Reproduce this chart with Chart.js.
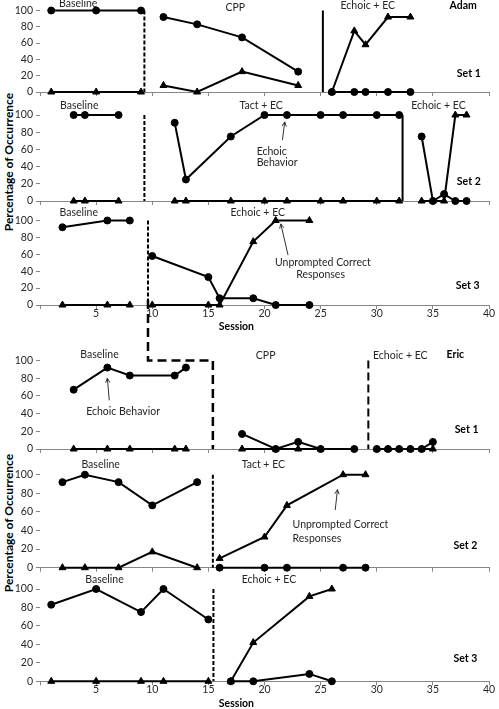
<!DOCTYPE html>
<html lang="en">
<head>
<meta charset="UTF-8">
<title>Adam and Eric - Percentage of Occurrence</title>
<script src="https://cdn.jsdelivr.net/npm/chart.js"></script>
<style>
  body { margin: 0; background: #fff; }
  #wrap { position: relative; width: 499px; height: 709px; overflow: hidden; }
  #wrap canvas { position: absolute; left: 0; }
  .ytitle {
    position: absolute;
    font: bold 12px Lato, sans-serif;
    white-space: nowrap;
    transform: translate(-50%, -50%) rotate(-90deg);
  }
</style>
</head>
<body>
<div id="wrap">
  <div class="ytitle" style="left:8px; top:162px">Percentage of Occurrence</div>
  <div class="ytitle" style="left:8px; top:523px">Percentage of Occurrence</div>
</div>
<script>
// phase index: 0 = baseline, 1 = second condition, 2 = third condition
// Adam, set 1
const adam1Sessions = [1, 5, 9, 11, 14, 18, 23, 26, 28, 29, 31, 33];
const adam1Phase    = [0, 0, 0, 1, 1, 1, 1, 2, 2, 2, 2, 2];
const adam1Echoic   = [100, 100, 100, 92, 83, 67, 25, 0, 0, 0, 0, 0];
const adam1Correct  = [0, 0, 0, 8, 0, 25, 8, 0, 75, 58, 92, 92];

// Adam, set 2
const adam2Sessions = [3, 4, 7, 12, 13, 17, 20, 22, 25, 27, 30, 32, 34, 35, 36, 37, 38];
const adam2Phase    = [0, 0, 0, 1, 1, 1, 1, 1, 1, 1, 1, 1, 2, 2, 2, 2, 2];
const adam2Echoic   = [100, 100, 100, 91, 25, 75, 100, 100, 100, 100, 100, 100, 75, 0, 8, 0, 0];
const adam2Correct  = [0, 0, 0, 0, 0, 0, 0, 0, 0, 0, 0, 0, 0, 0, 0, 100, 100];

// Adam, set 3
const adam3Sessions = [2, 6, 8, 10, 15, 16, 19, 21, 24];
const adam3Phase    = [0, 0, 0, 1, 1, 1, 1, 1, 1];
const adam3Echoic   = [92, 100, 100, 58, 33, 8, 8, 0, 0];
const adam3Correct  = [0, 0, 0, 0, 0, 0, 75, 100, 100];

// Eric, set 1
const eric1Sessions = [3, 6, 8, 12, 13, 18, 21, 23, 25, 28, 30, 31, 32, 33, 34, 35];
const eric1Phase    = [0, 0, 0, 0, 0, 1, 1, 1, 1, 1, 2, 2, 2, 2, 2, 2];
const eric1Echoic   = [67, 92, 83, 83, 92, 17, 0, 8, 0, 0, 0, 0, 0, 0, 0, 8];
const eric1Correct  = [0, 0, 0, 0, 0, 0, 0, 0, 0, null, 0, 0, 0, 0, 0, 0];

// Eric, set 2
const eric2Sessions = [2, 4, 7, 10, 14, 16, 20, 22, 27, 29];
const eric2Phase    = [0, 0, 0, 0, 0, 1, 1, 1, 1, 1];
const eric2Echoic   = [92, 100, 92, 67, 92, 0, 0, 0, 0, 0];
const eric2Correct  = [0, 0, 0, 17, 0, 10, 33, 67, 100, 100];

// Eric, set 3
const eric3Sessions = [1, 5, 9, 11, 15, 17, 19, 24, 26];
const eric3Phase    = [0, 0, 0, 0, 0, 1, 1, 1, 1];
const eric3Echoic   = [83, 100, 75, 100, 67, 0, 0, 8, 0];
const eric3Correct  = [0, 0, 0, 0, 0, 0, 42, 92, 100];

const FONT = 'Lato, sans-serif';
const TXT = '#262626';
const AXIS = '#868686';

function buildDatasets(sessions, phase, echoic, correct) {
  const out = [];
  [...new Set(phase)].forEach(p => {
    const idx = sessions.map((_, i) => i).filter(i => phase[i] === p);
    out.push({
      data: idx.map(i => ({ x: sessions[i], y: correct[i] })),
      pointStyle: 'triangle', pointRadius: 4, borderColor: '#000',
      backgroundColor: '#000', borderWidth: 2, pointBorderWidth: 1, clip: false
    });
    out.push({
      data: idx.map(i => ({ x: sessions[i], y: echoic[i] })),
      pointStyle: 'circle', pointRadius: 3.5, borderColor: '#000',
      backgroundColor: '#000', borderWidth: 2, pointBorderWidth: 1, clip: false
    });
  });
  return out;
}

function decorPlugin(p) {
  return {
    id: 'decor',
    beforeDatasetsDraw(chart) {
      const { ctx } = chart;
      const xs = chart.scales.x, ys = chart.scales.y;
      (p.lines || []).forEach(l => {
        ctx.save();
        ctx.strokeStyle = '#000';
        ctx.lineWidth = l.width;
        ctx.setLineDash(l.dash);
        ctx.beginPath();
        l.pts.forEach((pt, i) => {
          const X = xs.getPixelForValue(pt[0]);
          const Y = pt[1] === 'top' ? 0 : ys.getPixelForValue(pt[1]);
          if (i) ctx.lineTo(X, Y); else ctx.moveTo(X, Y);
        });
        ctx.stroke();
        ctx.restore();
      });
    },
    afterDatasetsDraw(chart) {
      const { ctx } = chart;
      const xs = chart.scales.x, ys = chart.scales.y;
      (p.labels || []).forEach(t => {
        ctx.save();
        ctx.font = (t.bold ? 'bold ' : '') + '10.5px ' + FONT;
        ctx.fillStyle = t.bold ? '#000' : TXT;
        ctx.textAlign = t.align || 'center';
        ctx.textBaseline = 'middle';
        ctx.fillText(t.text, xs.getPixelForValue(t.x), ys.getPixelForValue(t.y));
        ctx.restore();
      });
      (p.arrows || []).forEach(a => {
        const x1 = xs.getPixelForValue(a.from[0]), y1 = ys.getPixelForValue(a.from[1]);
        const x2 = xs.getPixelForValue(a.to[0]), y2 = ys.getPixelForValue(a.to[1]);
        const ang = Math.atan2(y2 - y1, x2 - x1);
        ctx.save();
        ctx.strokeStyle = '#333';
        ctx.lineWidth = 1;
        ctx.beginPath();
        ctx.moveTo(x1, y1);
        ctx.lineTo(x2, y2);
        ctx.moveTo(x2 - 5 * Math.cos(ang - 0.45), y2 - 5 * Math.sin(ang - 0.45));
        ctx.lineTo(x2, y2);
        ctx.lineTo(x2 - 5 * Math.cos(ang + 0.45), y2 - 5 * Math.sin(ang + 0.45));
        ctx.stroke();
        ctx.restore();
      });
    }
  };
}

const shortDash = [4, 2];

const panels = [
  { top: 0, height: 104, padTop: 10.5, showTicks: false,
    data: [adam1Sessions, adam1Phase, adam1Echoic, adam1Correct],
    lines: [
      { pts: [[9.3, 100], [9.3, 0]], dash: shortDash, width: 2 },
      { pts: [[25.2, 100], [25.2, 0]], dash: [], width: 2 }
    ],
    labels: [
      { x: 3.4, y: 109, text: 'Baseline' },
      { x: 17.4, y: 103, text: 'CPP' },
      { x: 29.2, y: 106.5, text: 'Echoic + EC' },
      { x: 37.7, y: 106.5, text: 'Adam', bold: true },
      { x: 38.2, y: 23, text: 'Set 1', bold: true }
    ] },
  { top: 98, height: 115, padTop: 17, showTicks: false,
    data: [adam2Sessions, adam2Phase, adam2Echoic, adam2Correct],
    lines: [
      { pts: [[9.3, 100], [9.3, 0]], dash: shortDash, width: 2 },
      { pts: [[32.3, 100], [32.3, 0]], dash: [], width: 2 }
    ],
    labels: [
      { x: 3.5, y: 111.5, text: 'Baseline' },
      { x: 19.7, y: 111.5, text: 'Tact + EC' },
      { x: 35.5, y: 111.5, text: 'Echoic + EC' },
      { x: 19.3, y: 57, text: 'Echoic', align: 'left' },
      { x: 19.3, y: 44.5, text: 'Behavior', align: 'left' },
      { x: 38.2, y: 23, text: 'Set 2', bold: true }
    ],
    arrows: [{ from: [21.6, 71], to: [21.8, 92] }] },
  { top: 205, height: 130, padTop: 15.5, showTicks: true,
    data: [adam3Sessions, adam3Phase, adam3Echoic, adam3Correct],
    lines: [
      { pts: [[9.62, 100], [9.62, 0]], dash: shortDash, width: 2 }
    ],
    labels: [
      { x: 3.45, y: 109, text: 'Baseline' },
      { x: 19.4, y: 109, text: 'Echoic + EC' },
      { x: 25.2, y: 50.5, text: 'Unprompted Correct' },
      { x: 25.0, y: 35.5, text: 'Responses' },
      { x: 38.1, y: 22.5, text: 'Set 3', bold: true },
      { x: 17.5, y: -25, text: 'Session', bold: true }
    ],
    arrows: [{ from: [22.1, 59], to: [21.45, 96] }] },
  { top: 300, height: 161, padTop: 60.5, showTicks: false,
    data: [eric1Sessions, eric1Phase, eric1Echoic, eric1Correct],
    lines: [
      { pts: [[9.62, 'top'], [9.62, 100], [15.4, 100], [15.4, 0]], dash: [9, 5], width: 2.5 },
      { pts: [[29.25, 100], [29.25, 0]], dash: [8, 4], width: 2 }
    ],
    labels: [
      { x: 5.3, y: 107, text: 'Baseline' },
      { x: 7.4, y: 42, text: 'Echoic Behavior' },
      { x: 20.1, y: 105.5, text: 'CPP' },
      { x: 32.1, y: 105.5, text: 'Echoic + EC' },
      { x: 37.0, y: 107, text: 'Eric', bold: true },
      { x: 38.0, y: 22.3, text: 'Set 1', bold: true }
    ],
    arrows: [{ from: [6.17, 55], to: [6.0, 80] }] },
  { top: 458, height: 122, padTop: 16.7, showTicks: false,
    data: [eric2Sessions, eric2Phase, eric2Echoic, eric2Correct],
    lines: [
      { pts: [[15.4, 100], [15.4, 0]], dash: shortDash, width: 2 }
    ],
    labels: [
      { x: 5.4, y: 110.5, text: 'Baseline' },
      { x: 19.9, y: 110.5, text: 'Tact + EC' },
      { x: 22.5, y: 46, text: 'Unprompted Correct', align: 'left' },
      { x: 22.5, y: 31, text: 'Responses', align: 'left' },
      { x: 37.9, y: 23.7, text: 'Set 2', bold: true }
    ],
    arrows: [{ from: [26.3, 62], to: [26.5, 84] }] },
  { top: 572, height: 137, padTop: 17, showTicks: true,
    data: [eric3Sessions, eric3Phase, eric3Echoic, eric3Correct],
    lines: [
      { pts: [[15.45, 100], [15.45, 0]], dash: shortDash, width: 2 }
    ],
    labels: [
      { x: 5.75, y: 110, text: 'Baseline' },
      { x: 20.4, y: 110, text: 'Echoic + EC' },
      { x: 37.9, y: 25, text: 'Set 3', bold: true },
      { x: 17.5, y: -24.6, text: 'Session', bold: true }
    ] }
];

// chart area spans x = 40 .. 489 and y from padTop to (y0 - top)
const yZero = [92, 201, 305, 449, 567.7, 681.3];

panels.forEach((p, k) => {
  const canvas = document.createElement('canvas');
  canvas.width = 499;
  canvas.height = p.height;
  canvas.style.top = p.top + 'px';
  document.getElementById('wrap').appendChild(canvas);
  const below = p.height - (yZero[k] - p.top);

  new Chart(canvas.getContext('2d'), {
    type: 'line',
    data: { datasets: buildDatasets(...p.data) },
    options: {
      responsive: false,
      animation: false,
      devicePixelRatio: 1,
      layout: { padding: { top: p.padTop, left: 0, right: 10, bottom: 0 } },
      plugins: { legend: { display: false }, tooltip: { enabled: false } },
      elements: { line: { tension: 0 } },
      scales: {
        x: {
          type: 'linear', min: 0, max: 40,
          afterFit: s => { s.height = below; },
          border: { display: true, color: AXIS, width: 1 },
          grid: { display: true, drawOnChartArea: false, drawTicks: true, tickLength: 4, color: AXIS },
          ticks: {
            display: p.showTicks, stepSize: 5, padding: -2, color: TXT, maxRotation: 0, autoSkip: false,
            font: { family: FONT, size: 10.5 },
            callback: v => (v === 0 ? '' : v)
          }
        },
        y: {
          min: 0, max: 100,
          afterFit: s => { s.width = 40; },
          border: { display: false },
          grid: { display: true, drawOnChartArea: false, drawTicks: true, tickLength: 4, color: AXIS },
          ticks: { stepSize: 20, padding: 3, color: TXT, font: { family: FONT, size: 10.5 } }
        }
      }
    },
    plugins: [decorPlugin(p)]
  });
});
</script>
</body>
</html>
